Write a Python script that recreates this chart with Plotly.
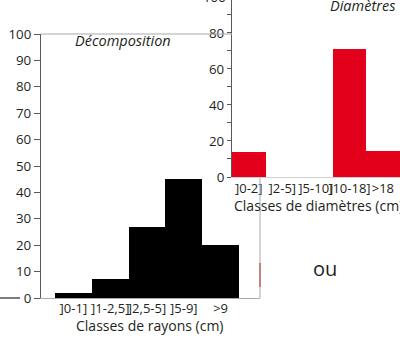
import plotly.graph_objects as go

W, H = 400, 338


def px(x):
    return x / W


def py(y):
    return 1 - y / H


# ---- data ----
rayons_cats = ["]0-1]", "]1-2,5]", "]2,5-5]", "]5-9]", ">9"]
rayons_vals = [2, 7.3, 27, 45, 20]
diam_cats = ["]0-2]", "]2-5]", "]5-10]", "]10-18]", ">18"]
diam_vals = [14, 0, 0, 71, 14.5]
left_yticks = [0, 10, 20, 30, 40, 50, 60, 70, 80, 90, 100]
right_yticks = [0, 20, 40, 60, 80, 100]

FONT = "Open Sans"
TXT = "#231f20"
AX = "#58595b"
LIGHT = "#a7a9ac"
RED = "#e2001a"

fig = go.Figure()
fig.add_trace(go.Bar(x=rayons_cats, y=rayons_vals, marker=dict(color="#000000", line=dict(width=0)),
                     xaxis="x", yaxis="y", showlegend=False, hoverinfo="skip"))
fig.add_trace(go.Bar(x=diam_cats, y=diam_vals, marker=dict(color=RED, line=dict(width=0)),
                     xaxis="x2", yaxis="y2", showlegend=False, hoverinfo="skip"))

ytickfont = dict(family=FONT, size=13.3, color=TXT)
xtickfont = dict(family=FONT, size=13, color=TXT)

fig.update_layout(
    width=W, height=H, autosize=False,
    margin=dict(l=0, r=0, t=0, b=0, pad=0, autoexpand=False),
    paper_bgcolor="white", plot_bgcolor="rgba(0,0,0,0)",
    bargap=0,
    xaxis=dict(domain=[px(41), px(260)], anchor="y", type="category", automargin=False,
               range=[-0.88, 5.07], showline=True, linecolor=LIGHT, linewidth=1,
               ticks="", tickangle=0, ticklabelstandoff=-2,
               showgrid=False, zeroline=False, tickfont=xtickfont),
    yaxis=dict(domain=[py(298), py(34)], anchor="x", range=[0, 100], automargin=False,
               tickvals=left_yticks, ticks="outside", ticklen=6, tickcolor=AX,
               showline=True, linecolor=AX, linewidth=1.2,
               showgrid=False, zeroline=False, tickfont=ytickfont),
    xaxis2=dict(domain=[px(232), 1], anchor="y2", type="category", automargin=False,
                range=[-0.5, 4.51], showline=True, linecolor="#d0d0d0", linewidth=1,
                ticks="", tickangle=0, ticklabelstandoff=-1,
                showgrid=False, zeroline=False, tickfont=xtickfont),
    yaxis2=dict(domain=[py(177), 1], anchor="x2", range=[0, 98.3], automargin=False,
                tickvals=right_yticks, ticks="outside", ticklen=4, tickcolor=AX,
                minor=dict(ticks="outside", ticklen=4, dtick=10, tickcolor=AX),
                showline=True, linecolor=AX, linewidth=1.2,
                showgrid=False, zeroline=False, tickfont=ytickfont),
    shapes=[
        dict(type="line", xref="paper", yref="paper", x0=px(41), x1=px(232), y0=py(34), y1=py(34),
             line=dict(color=LIGHT, width=1)),
        dict(type="line", xref="paper", yref="paper", x0=px(260), x1=px(260), y0=py(178), y1=py(298),
             line=dict(color=LIGHT, width=1)),
        dict(type="line", xref="paper", yref="paper", x0=px(260), x1=px(260), y0=py(263), y1=py(287),
             line=dict(color="#b03030", width=1)),
        dict(type="line", xref="paper", yref="paper", x0=0, x1=px(20), y0=py(298), y1=py(298),
             line=dict(color="#333333", width=1.3)),
    ],
    annotations=[
        dict(text="<i>Décomposition</i>", xref="paper", yref="paper", x=px(123), y=py(41),
             xanchor="center", yanchor="middle", showarrow=False,
             font=dict(family=FONT, size=14.5, color=TXT)),
        dict(text="Classes de rayons (cm)", xref="paper", yref="paper", x=px(149), y=py(325),
             xanchor="center", yanchor="middle", showarrow=False,
             font=dict(family=FONT, size=14, color=TXT)),
        dict(text="<i>Diamètres</i>", xref="paper", yref="paper", x=px(362), y=py(6),
             xanchor="center", yanchor="middle", showarrow=False,
             font=dict(family=FONT, size=14.5, color=TXT)),
        dict(text="Classes de diamètres (cm)", xref="paper", yref="paper", x=px(232), y=py(205),
             xanchor="left", yanchor="middle", showarrow=False,
             font=dict(family=FONT, size=14, color=TXT)),
        dict(text="100", xref="paper", yref="paper", x=px(228), y=py(-3),
             xanchor="right", yanchor="middle", showarrow=False,
             font=dict(family=FONT, size=13.3, color=TXT)),
        dict(text="ou", xref="paper", yref="paper", x=px(325), y=py(268),
             xanchor="center", yanchor="middle", showarrow=False,
             font=dict(family=FONT, size=20, color=TXT)),
    ],
)

fig.write_html("out.html", config=dict(displayModeBar=False),
               post_script="document.body.style.margin='0';document.body.style.overflow='hidden';")
